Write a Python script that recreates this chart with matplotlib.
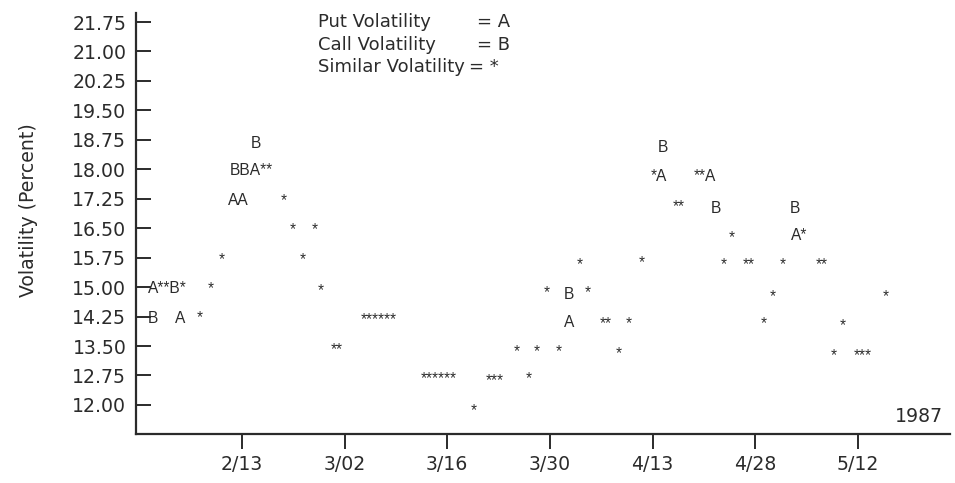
"""
Put / call implied volatility, Feb-May 1987, drawn with letter markers
(A = put, B = call, * = both about the same).
"""

import matplotlib
matplotlib.use("Agg")
import matplotlib.pyplot as plt

W, H = 955, 483
INK = "#2b2b2b"
LABEL_FONT = "DejaVu Sans"
MARK_FONT = "Liberation Sans"

# x is counted in trading days, one date tick every 10 days
DATE_LABELS = ["2/13", "3/02", "3/16", "3/30", "4/13", "4/28", "5/12"]
DATE_POS = [10, 20, 30, 40, 50, 60, 70]
YEAR_LABEL = "1987"

Y_TICKS = [12.00, 12.75, 13.50, 14.25, 15.00, 15.75, 16.50, 17.25,
           18.00, 18.75, 19.50, 20.25, 21.00, 21.75]

# each mark is a run of characters, centred on (day, vol)
MARK_TEXT = ["B", "A**B*", "A", "*", "*", "*", "AA", "BBA**", "B", "*",
             "*", "*", "*", "*", "**", "******", "******", "*", "***", "*",
             "*", "*", "*", "*", "A", "B", "*", "*", "**", "*",
             "*", "*", "*A", "B", "**", "**A", "B", "*", "*", "**",
             "*", "*", "*", "B", "A*", "**", "*", "*", "***", "*"]
MARK_DAY = [1.3, 2.7, 4.0, 5.9, 7.0, 8.0, 9.6, 10.9, 11.4, 14.1,
            14.9, 15.9, 17.1, 17.7, 19.2, 23.3, 29.2, 32.6, 34.6, 36.8,
            37.9, 38.7, 39.7, 40.8, 41.85, 41.85, 42.9, 43.7, 45.4, 46.7,
            47.7, 48.9, 50.6, 51.0, 52.5, 55.1, 56.2, 56.9, 57.7, 59.4,
            60.8, 61.7, 62.7, 63.9, 64.3, 66.5, 67.6, 68.5, 70.5, 72.7]
MARK_VOL = [14.25, 15.00, 14.25, 14.25, 15.00, 15.75, 17.25, 18.00, 18.70, 17.25,
            16.50, 15.75, 16.50, 14.95, 13.45, 14.20, 12.70, 11.90, 12.65, 13.40,
            12.70, 13.40, 14.90, 13.40, 14.15, 14.85, 15.60, 14.90, 14.10, 13.35,
            14.10, 15.65, 17.85, 18.60, 17.10, 17.85, 17.05, 15.60, 16.30, 15.60,
            14.10, 14.80, 15.60, 17.05, 16.35, 15.60, 13.30, 14.05, 13.30, 14.80]

LEGEND_NAMES = ["Put Volatility", "Call Volatility", "Similar Volatility"]
LEGEND_CODES = ["= A", "= B", "= *"]


def fx(px):
    return px / W


def fy(py):
    return 1 - py / H


fig = plt.figure(figsize=(W / 100, H / 100), dpi=100)
ax = fig.add_axes([fx(136), fy(434), fx(950) - fx(136), fy(13) - fy(434)])

ax.set_xlim(-0.32, 78.96)
ax.set_ylim(11.26, 21.98)

for side in ("top", "right"):
    ax.spines[side].set_visible(False)
for side in ("left", "bottom"):
    ax.spines[side].set_linewidth(1.6)
    ax.spines[side].set_color(INK)

ax.set_yticks(Y_TICKS)
ax.set_yticklabels([f"{v:.2f}" for v in Y_TICKS], family=LABEL_FONT, fontsize=13.6, color=INK)
ax.set_xticks(DATE_POS)
ax.set_xticklabels(DATE_LABELS, family=LABEL_FONT, fontsize=13.6, color=INK)
# last date tick crosses the axis
ax.set_xticks([DATE_POS[-1]], minor=True)

ax.tick_params(axis="y", direction="in", length=11, width=1.4, pad=7, color=INK)
ax.tick_params(axis="x", which="major", direction="out", length=11, width=1.4, pad=4, color=INK)
ax.tick_params(axis="x", which="minor", direction="in", length=11, width=1.4, color=INK)

ax.set_ylabel("Volatility (Percent)", family=LABEL_FONT, fontsize=13.6, color=INK)
ax.yaxis.set_label_coords(-0.121, 0.532)

ax.text(0.962, 0.018, YEAR_LABEL, transform=ax.transAxes, ha="center", va="bottom",
        family=LABEL_FONT, fontsize=13.6, color=INK)

for s, d, v in zip(MARK_TEXT, MARK_DAY, MARK_VOL):
    ax.text(d, v, s, ha="center", va="center_baseline", family=MARK_FONT,
            fontsize=11.2, color=INK)

for i, (name, code) in enumerate(zip(LEGEND_NAMES, LEGEND_CODES)):
    base = [27, 50, 72][i]
    fig.text(fx(318), fy(base), name, ha="left", va="baseline",
             family=LABEL_FONT, fontsize=13, color=INK)
    fig.text(fx(477 if i < 2 else 469), fy(base), code, ha="left", va="baseline",
             family=LABEL_FONT, fontsize=13, color=INK)

fig.savefig("out.png", dpi=100, facecolor="white")
